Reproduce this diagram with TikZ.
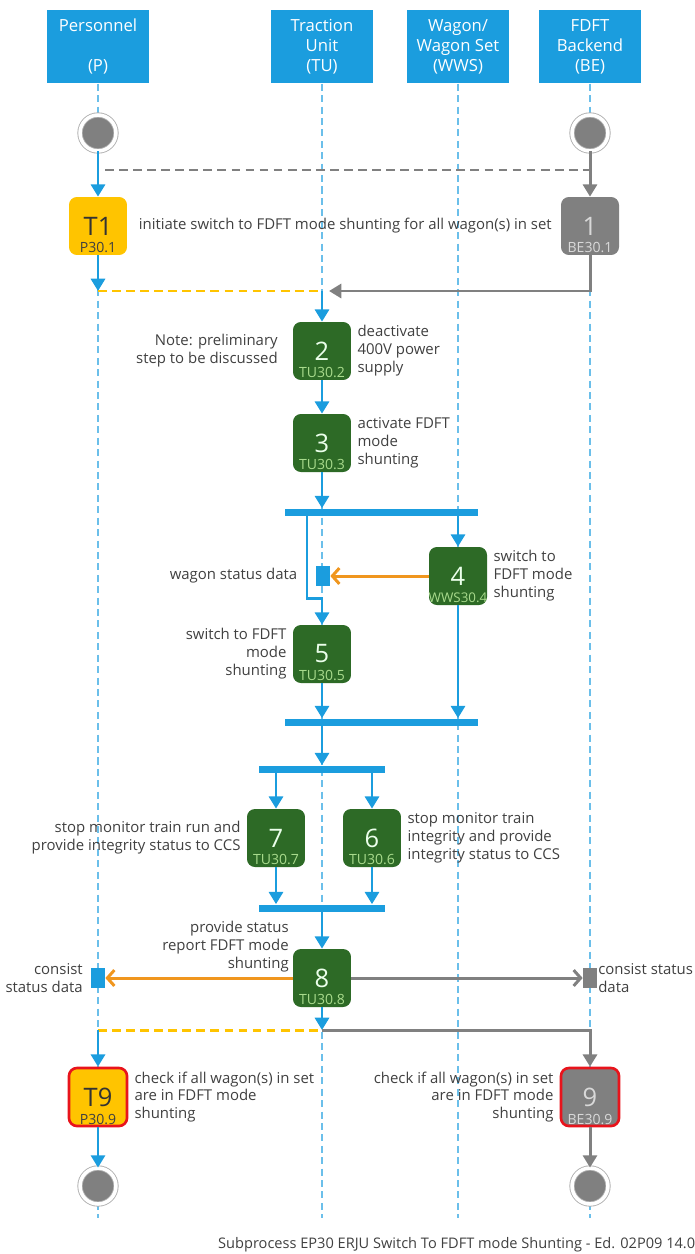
\documentclass[tikz,border=0pt]{standalone}
\usepackage{fontspec}
\setmainfont{Open Sans}
\usetikzlibrary{arrows.meta, positioning}

\definecolor{laneblue}{RGB}{27,157,222}
\definecolor{taskgreen}{RGB}{45,106,38}
\definecolor{codegreen}{RGB}{168,218,140}
\definecolor{taskyellow}{RGB}{255,196,0}
\definecolor{taskgray}{RGB}{128,128,128}
\definecolor{msgorange}{RGB}{240,150,30}
\definecolor{alertred}{RGB}{232,20,28}
\definecolor{textgray}{RGB}{64,64,64}
\definecolor{ringgray}{RGB}{175,175,175}

\begin{document}
\begin{tikzpicture}[
    x=0.02cm, y=-0.02cm,
    every node/.style={font=\fontsize{8.5}{10.2}\selectfont, text=textgray},
    head/.style={rectangle, fill=laneblue, minimum width=2.06cm, minimum height=1.46cm, anchor=north, text=white, align=center, font=\fontsize{9.5}{11.4}\selectfont},
    lane/.style={laneblue!65, line width=0.6pt, dash pattern=on 4pt off 2.5pt},
    task/.style={rectangle, rounded corners=4.5pt, minimum width=1.16cm, minimum height=1.16cm, inner sep=0pt, font=\fontsize{14.5}{14.5}\selectfont},
    tu/.style={task, fill=taskgreen, text=green!8},
    pers/.style={task, fill=taskyellow, text=black!80},
    back/.style={task, fill=taskgray, text=black!15},
    alert/.style={draw=alertred, line width=1.5pt},
    code/.style={anchor=south, inner sep=1.2pt, font=\fontsize{8}{8}\selectfont},
    state/.style={circle, fill=taskgray, draw=ringgray, double=white, double distance=2pt, line width=0.5pt, minimum size=0.72cm, inner sep=0pt},
    bar/.style={rectangle, fill=laneblue, minimum height=0.14cm, inner sep=0pt},
    square/.style={rectangle, minimum width=0.28cm, minimum height=0.4cm, inner sep=0pt},
    note/.style={align=left},
    lnote/.style={align=right},
    flow/.style={laneblue, line width=1.7pt, -{Triangle[length=7pt,width=8pt]}},
    gflow/.style={flow, taskgray},
    msg/.style={msgorange, line width=1.7pt, -{Straight Barb[length=4pt,width=9pt]}},
    gmsg/.style={msg, taskgray},
    gdash/.style={taskgray, line width=1.7pt, dash pattern=on 5pt off 3pt},
    ydash/.style={taskyellow, line width=1.7pt, dash pattern=on 5pt off 3pt}
  ]
    \useasboundingbox (0,0) rectangle (695,1254);
    \clip (0,0) rectangle (695,1254);

    % Swimlane heads and lanes
    \node[head] (hP) at (98,10) {Personnel\\~\\(P)};
    \node[head] (hTU) at (322,10) {Traction\\Unit\\(TU)};
    \node[head] (hWWS) at (458,10) {Wagon/\\Wagon Set\\(WWS)};
    \node[head] (hBE) at (590,10) {FDFT\\Backend\\(BE)};
    \coordinate (floor) at (0,1218);
    \foreach \h in {hP, hTU, hWWS, hBE}
      \draw[lane] (\h.south) -- (\h.south |- floor);

    % Start and end states
    \node[state] (startP) at (98,133) {};
    \node[state] (startB) at (590,133) {};
    \node[state] (endP) at (98,1186) {};
    \node[state] (endB) at (590,1186) {};

    % Tasks
    \node[pers, label={[code]south:P30.1}] (t1) at (98,226) {T1};
    \node[back, label={[code, text=black!15]south:BE30.1}] (s1) at (590,226) {1};
    \node[tu, label={[code, text=codegreen]south:TU30.2}] (s2) at (322,351) {2};
    \node[tu, label={[code, text=codegreen]south:TU30.3}] (s3) at (322,443) {3};
    \node[tu, label={[code, text=codegreen, font=\fontsize{7.6}{7.6}\selectfont]south:WWS30.4}] (s4) at (458,576) {4};
    \node[tu, label={[code, text=codegreen]south:TU30.5}] (s5) at (322,654) {5};
    \node[tu, label={[code, text=codegreen]south:TU30.7}] (s7) at (276,838) {7};
    \node[tu, label={[code, text=codegreen]south:TU30.6}] (s6) at (372,838) {6};
    \node[tu, label={[code, text=codegreen]south:TU30.8}] (s8) at (322,978) {8};
    \node[pers, alert, label={[code]south:P30.9}] (t9) at (98,1097) {T9};
    \node[back, alert, label={[code, text=black!15]south:BE30.9}] (s9) at (590,1097) {9};

    % Fork and join bars
    \node[bar, minimum width=3.86cm] (fork1) at (381.5,512) {};
    \node[bar, minimum width=3.86cm] (join1) at (381.5,722) {};
    \node[bar, minimum width=2.52cm] (fork2) at (322,769) {};
    \node[bar, minimum width=2.52cm] (join2) at (322,908) {};

    % Data objects
    \node[square, fill=laneblue] (wagdata) at (323,576) {};
    \node[square, fill=laneblue] (consP) at (98,978) {};
    \node[square, fill=taskgray] (consB) at (590,978) {};

    % Junctions
    \coordinate (splitP) at (98,170);
    \coordinate (splitB) at (590,170);
    \coordinate (mergeP) at (98,291);
    \coordinate (mergeT) at (322,291);
    \coordinate (bend5) at (307,598);
    \coordinate (mergeP2) at (98,1030);
    \coordinate (mergeT2) at (322,1030);

    % Labels
    \node[note, right=3pt of t1] (l1) {initiate switch to FDFT mode shunting for all wagon(s) in set};
    \node[note, right=0pt of s2] (l2) {deactivate\\400V power\\supply};
    \node[lnote, left=5pt of s2] (l2n) {Note: preliminary\\step to be discussed};
    \node[note, right=0pt of s3] (l3) {activate FDFT\\mode\\shunting};
    \node[note, right=0pt of s4] (l4) {switch to\\FDFT mode\\shunting};
    \node[lnote, left=7pt of wagdata] (lwag) {wagon status data};
    \node[lnote, left=0pt of s5] (l5) {switch to FDFT\\mode\\shunting};
    \node[lnote, left=0pt of s7] (l7) {stop monitor train run and\\provide integrity status to CCS};
    \node[note, right=0pt of s6] (l6) {stop monitor train\\integrity and provide\\integrity status to CCS};
    \node[lnote, anchor=east] (l8) at (295,947) {provide status\\report FDFT mode\\shunting};
    \node[lnote, left=1pt of consP] (lconsP) {consist\\status data};
    \node[note, right=-3pt of consB] (lconsB) {consist status\\data};
    \node[note, right=0pt of t9] (l9t) {check if all wagon(s) in set\\are in FDFT mode\\shunting};
    \node[lnote, left=0pt of s9] (l9) {check if all wagon(s) in set\\are in FDFT mode\\shunting};
    \node[anchor=west, font=\fontsize{8.3}{10}\selectfont] (foot) at (212,1245) {Subprocess EP30 ERJU Switch To FDFT mode Shunting - Ed. 02P09 14.0};

    % Sequence flow
    \draw[flow] (startP) -- (t1);
    \draw[gflow] (startB) -- (s1);
    \draw[gdash, shorten <=4pt] (splitP) -- (splitB);
    \draw[flow] (t1) -- (mergeP);
    \draw[ydash] (mergeP) -- (mergeT);
    \draw[gflow, shorten >=4pt] (s1) |- (mergeT);
    \draw[flow] (mergeT) -- (s2);
    \draw[flow] (s2) -- (s3);
    \draw[flow] (s3) -- (s3 |- fork1.north);
    \draw[flow] (fork1.south -| s4) -- (s4);
    \draw[flow] (fork1.south -| bend5) -- (bend5) -| (s5.north);
    \draw[flow] (s5) -- (s5 |- join1.north);
    \draw[flow] (s4) -- (s4 |- join1.north);
    \draw[flow] (join1.south -| s5) -- (fork2.north -| s5);
    \draw[flow] (fork2.south -| s7) -- (s7);
    \draw[flow] (fork2.south -| s6) -- (s6);
    \draw[flow] (s7) -- (s7 |- join2.north);
    \draw[flow] (s6) -- (s6 |- join2.north);
    \draw[flow] (join2.south -| s8) -- (s8);
    \draw[flow] (s8) -- (mergeT2);
    \draw[ydash] (mergeP2) -- (mergeT2);
    \draw[gflow] (mergeT2) -| (s9);
    \draw[flow] (mergeP2) -- (t9);
    \draw[flow] (t9) -- (endP);
    \draw[gflow] (s9) -- (endB);

    % Data flow
    \draw[msg] (s4) -- (wagdata);
    \draw[msg] (s8) -- (consP);
    \draw[gmsg] (s8) -- (consB);
\end{tikzpicture}
\end{document}
